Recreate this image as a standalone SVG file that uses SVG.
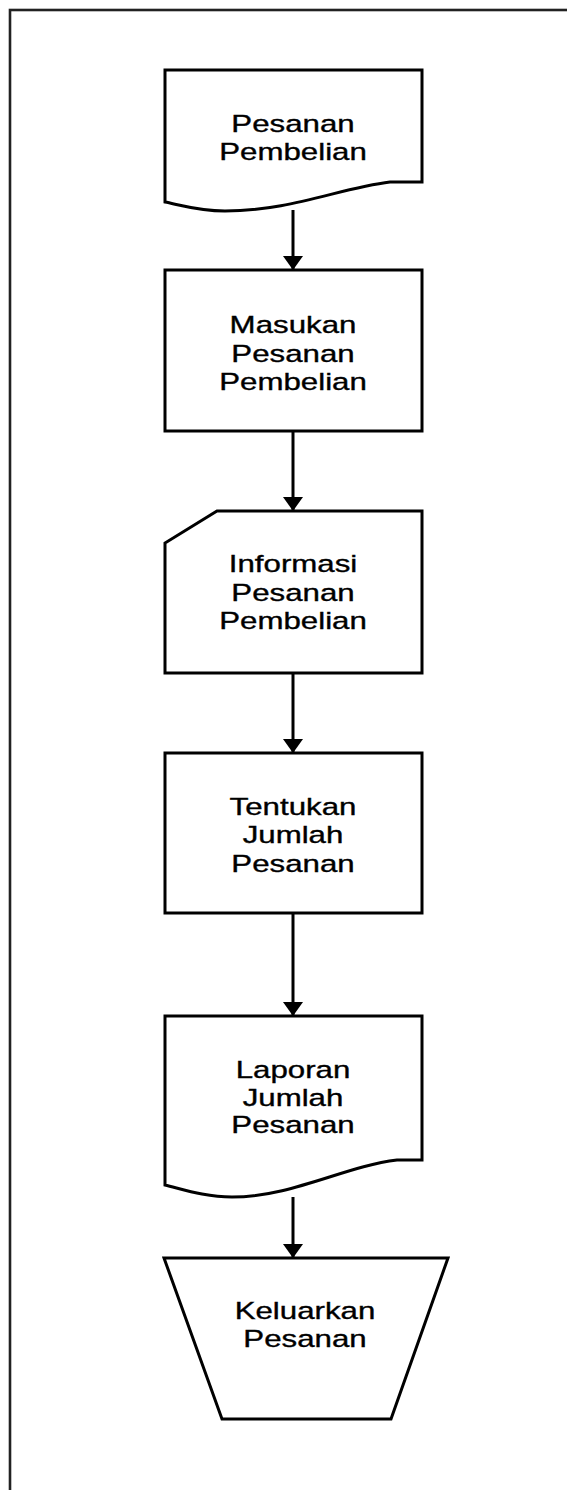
<svg xmlns="http://www.w3.org/2000/svg" width="567" height="1490" viewBox="0 0 567 1490">
<style>
.shape{fill:#fff;stroke:#000;stroke-width:3;stroke-linejoin:miter}
.lbl{font-family:"Liberation Sans",Arial,sans-serif;font-size:23.5px;fill:#000;stroke:#000;stroke-width:0.35;text-anchor:middle}
.conn{stroke:#000;stroke-width:3;fill:none}
</style>
<defs>
<marker id="arr" markerUnits="userSpaceOnUse" markerWidth="14" markerHeight="20" refX="14" refY="10" orient="auto" viewBox="0 0 14 20">
<path d="M0,0 L14,10 L0,20 Z" fill="#000"/>
</marker>
</defs>
<rect x="0" y="0" width="567" height="1490" fill="#fff"/>
<rect id="frame" x="10" y="10" width="600" height="1520" fill="none" stroke="#222" stroke-width="2.6"/>

<g id="connectors">
<line class="conn" x1="293" y1="210" x2="293" y2="270" marker-end="url(#arr)"/>
<line class="conn" x1="293" y1="431" x2="293" y2="511" marker-end="url(#arr)"/>
<line class="conn" x1="293" y1="673" x2="293" y2="753" marker-end="url(#arr)"/>
<line class="conn" x1="293" y1="913" x2="293" y2="1016" marker-end="url(#arr)"/>
<line class="conn" x1="293" y1="1197" x2="293" y2="1258" marker-end="url(#arr)"/>
</g>

<g id="n1">
<path class="shape" d="M165,70 H422 V182 H390 C340,188 290,211 225,211 C200,211 180,205 165,202 Z"/>
<g transform="translate(293,0) scale(1.33,1)">
<text class="lbl" x="0" y="132">Pesanan</text>
<text class="lbl" x="0" y="160">Pembelian</text>
</g>
</g>

<g id="n2">
<rect class="shape" x="165" y="270" width="257" height="161"/>
<g transform="translate(293,0) scale(1.33,1)">
<text class="lbl" x="0" y="333">Masukan</text>
<text class="lbl" x="0" y="362">Pesanan</text>
<text class="lbl" x="0" y="390">Pembelian</text>
</g>
</g>

<g id="n3">
<path class="shape" d="M217,511 H422 V673 H165 V543 Z"/>
<g transform="translate(293,0) scale(1.33,1)">
<text class="lbl" x="0" y="572">Informasi</text>
<text class="lbl" x="0" y="601">Pesanan</text>
<text class="lbl" x="0" y="629">Pembelian</text>
</g>
</g>

<g id="n4">
<rect class="shape" x="165" y="753" width="257" height="160"/>
<g transform="translate(293,0) scale(1.33,1)">
<text class="lbl" x="0" y="815">Tentukan</text>
<text class="lbl" x="0" y="843">Jumlah</text>
<text class="lbl" x="0" y="872">Pesanan</text>
</g>
</g>

<g id="n5">
<path class="shape" d="M165,1016 H422 V1160 H397 C345,1166 292,1197 232,1197 C205,1197 182,1189 165,1185 Z"/>
<g transform="translate(293,0) scale(1.33,1)">
<text class="lbl" x="0" y="1078">Laporan</text>
<text class="lbl" x="0" y="1106">Jumlah</text>
<text class="lbl" x="0" y="1133">Pesanan</text>
</g>
</g>

<g id="n6">
<path class="shape" d="M164,1258 H448 L391,1419 H222 Z"/>
<g transform="translate(305,0) scale(1.33,1)">
<text class="lbl" x="0" y="1319">Keluarkan</text>
<text class="lbl" x="0" y="1347">Pesanan</text>
</g>
</g>
</svg>
